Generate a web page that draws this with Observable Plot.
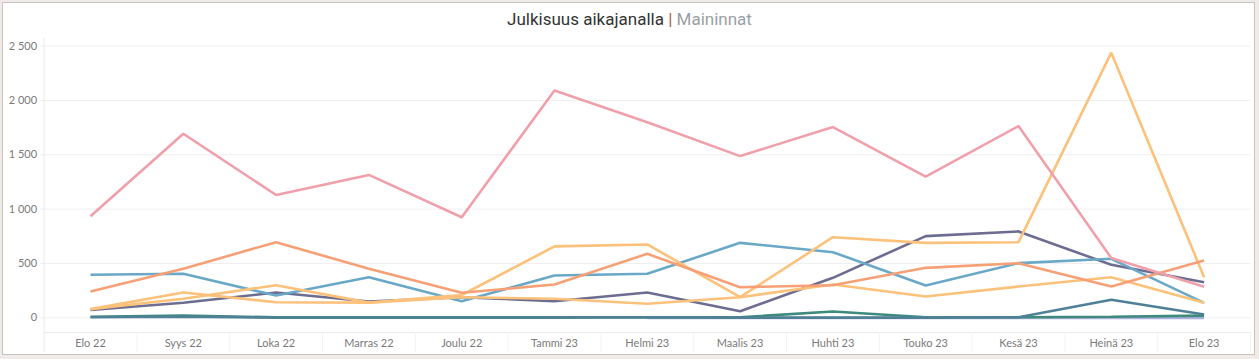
<!DOCTYPE html>
<html><head><meta charset="utf-8">
<script src="https://cdn.jsdelivr.net/npm/d3@7"></script>
<script src="https://cdn.jsdelivr.net/npm/@observablehq/plot@0.6"></script>
<style>
html,body{margin:0;padding:0;background:#f0ebe6;width:1259px;height:359px;overflow:hidden}
#panel{position:absolute;left:2px;top:2px;width:1251px;height:351px;background:#fff;border:1px solid #c9c4bf;box-sizing:content-box}
#title{position:absolute;left:0;top:9px;width:1259px;text-align:center;font-family:Roboto,"Open Sans",sans-serif;font-size:17px;font-weight:400;line-height:20px;color:#333;white-space:nowrap}
#title .sep{color:#a8574c}
#title .sub{color:#9a9fa6}
#chart{position:absolute;left:0;top:0}
#chart svg{overflow:visible}
#chart [aria-label^="y-axis"] line, #chart [aria-label="y-axis tick"] path{stroke:#ececec}
</style></head>
<body>
<div id="panel"></div>
<div id="title">Julkisuus aikajanalla <span class="sep">|</span> <span class="sub">Maininnat</span></div>
<div id="chart"></div>
<script>
const months = ["Elo 22","Syys 22","Loka 22","Marras 22","Joulu 22","Tammi 23","Helmi 23","Maalis 23","Huhti 23","Touko 23","Kesä 23","Heinä 23","Elo 23"];
const yTicks = [0, 500, 1000, 1500, 2000, 2500];

const lavender = [null, null, null, null, null, null, 0, 0, 0, 0, 0, 0, 0];
const green    = [10, 20, 5, 5, 5, 5, 5, 5, 58, 5, 5, 10, 20];
const teal     = [5, 10, 2, 2, 2, 2, 5, 2, 2, 2, 5, 166, 30];
const purple   = [72, 138, 233, 150, 190, 153, 233, 61, 368, 752, 795, 488, 328];
const blue     = [396, 405, 205, 374, 153, 390, 405, 690, 604, 297, 503, 543, 138];
const orangeB  = [80, 175, 300, 140, 190, 175, 129, 190, 307, 196, 288, 374, 138];
const orangeA  = [80, 233, 144, 140, 210, 657, 675, 190, 742, 690, 696, 2440, 374];
const salmon   = [242, 451, 696, 451, 230, 307, 589, 282, 300, 460, 503, 288, 528];
const pink     = [935, 1694, 1130, 1315, 925, 2092, 1800, 1488, 1755, 1300, 1764, 550, 285];

const seriesNames = ["S1","S2","S3","S4","S5","S6","S7","S8","S9"];
const seriesValues = [lavender, green, teal, purple, blue, orangeB, orangeA, salmon, pink];
const seriesColors = ["#abb0dc","#3e8a7c","#4f8196","#6c6d90","#6aa8c8","#fcc17a","#fcc17a","#f7a076","#f0a0ab"];

const data = [];
seriesValues.forEach((vals, s) => vals.forEach((v, i) => data.push({series: seriesNames[s], i, v})));

const yTop = 2570, yBottom = -135, stripBottom = -320;
const bounds = d3.range(months.length + 1).map(i => i - 0.5);
const fmt = d => d3.format(",")(d).replace(/,/g, " ");

const chart = Plot.plot({
  width: 1259, height: 359,
  marginLeft: 43.6, marginRight: 9, marginTop: 38, marginBottom: 27,
  style: {background: "transparent", fontFamily: "Lato, 'Open Sans', sans-serif", fontSize: "11px", color: "#7a7a7a"},
  x: {type: "linear", domain: [-0.5, months.length - 0.5], ticks: d3.range(months.length), tickFormat: i => months[i], tickSize: 0, tickPadding: 7, label: null},
  y: {domain: [yBottom, yTop], ticks: yTicks, tickFormat: fmt, tickSize: 3, tickPadding: 4, label: null},
  color: {domain: seriesNames, range: seriesColors},
  marks: [
    Plot.ruleY(yTicks, {stroke: "#efefef", strokeWidth: 1}),
    Plot.ruleY([yBottom], {stroke: "#ebebeb"}),
    Plot.ruleX(bounds.slice(1), {y1: yBottom, y2: stripBottom, stroke: "#f3f3f3"}),
    Plot.ruleX([-0.5], {y1: stripBottom, y2: yTop, stroke: "#eaeaea"}),
    Plot.line(data, {x: "i", y: "v", z: "series", stroke: "series", strokeWidth: 2.6, strokeLinejoin: "miter", strokeLinecap: "butt"})
  ]
});
document.getElementById("chart").appendChild(chart);
</script>
</body></html>
